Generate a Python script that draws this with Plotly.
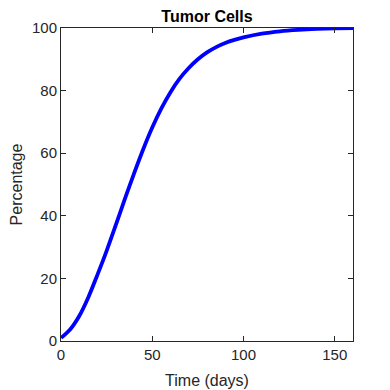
import plotly.graph_objs as go

# values
days = [0, 5, 10, 15, 20, 25, 30, 35, 40, 45, 50, 55, 60, 65, 70, 75, 80, 85,
        90, 95, 100, 110, 120, 130, 140, 150, 160]
tumor_pct = [1.0, 3.7, 8.0, 14.0, 21.2, 28.8, 37.0, 45.4, 53.5, 61.2, 68.2,
             74.3, 79.5, 83.8, 87.2, 90.0, 92.2, 93.9, 95.2, 96.2, 97.0,
             98.2, 98.95, 99.4, 99.7, 99.88, 100.0]

x_ticks = [0, 50, 100, 150]
y_ticks = [0, 20, 40, 60, 80, 100]

axis_color = '#262626'
font_family = 'Liberation Sans, Arial, sans-serif'

fig = go.Figure()
fig.add_trace(go.Scatter(x=days, y=tumor_pct, mode='lines',
                         line=dict(color='#0000ff', width=3.8, shape='spline', smoothing=0.8),
                         showlegend=False))

axis_style = dict(showline=True, linecolor=axis_color, linewidth=1, mirror='ticks',
                  ticks='inside', ticklen=5, tickcolor=axis_color, showgrid=False,
                  zeroline=False, automargin=False,
                  tickfont=dict(size=15, color=axis_color, family=font_family))

# page is offset by the body margin, so the margins are shifted to compensate
fig.update_layout(
    width=390, height=390,
    margin=dict(l=53, r=45, t=20, b=57),
    paper_bgcolor='white', plot_bgcolor='white',
    title=dict(text='<b>Tumor Cells</b>', xref='paper', x=0.5, xanchor='center',
               y=0.978, yanchor='middle',
               font=dict(size=16, color='black', family=font_family)),
    xaxis=dict(range=[0, 160], tickvals=x_ticks,
               title=dict(text='Time (days)', standoff=12,
                          font=dict(size=16, color=axis_color, family=font_family)),
               **axis_style),
    yaxis=dict(range=[0, 100], tickvals=y_ticks,
               title=dict(text='Percentage', standoff=17,
                          font=dict(size=16, color=axis_color, family=font_family)),
               **axis_style),
)

fig.write_html("out.html")
